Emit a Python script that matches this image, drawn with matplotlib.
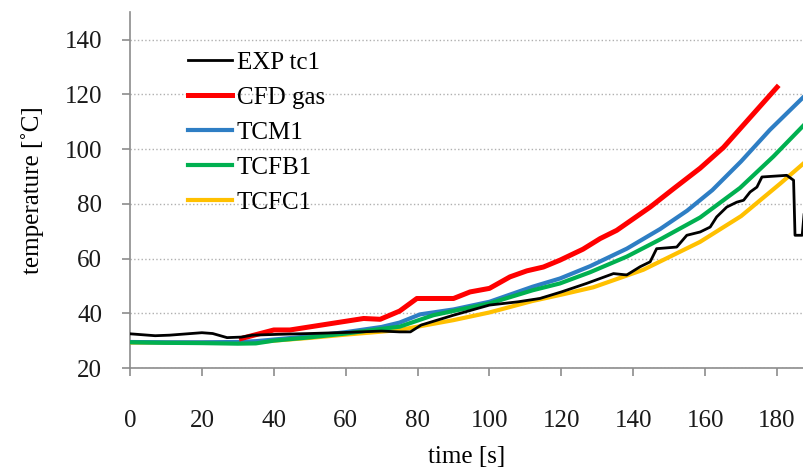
import numpy as np
import matplotlib
matplotlib.use("Agg")
from matplotlib import pyplot as plt

plt.rcParams['font.family'] = ['Liberation Serif', 'DejaVu Serif']

# EXP tc1 (measured)
t_exp = [0, 7, 11, 20, 23, 27, 31, 34, 41, 44, 50, 60, 70, 75, 78, 81, 84, 90, 100,
         108, 114, 120, 127, 134.5, 138.2, 141.9, 144.7, 146.5, 152.1, 154.9, 158.6, 161.4,
         163.2, 166, 168.8, 170.7, 172.5, 174.4, 175.8, 182.7, 184.6, 185, 187, 187.5]
T_exp = [32.5, 31.8, 32.0, 32.9, 32.6, 31.1, 31.3, 32.0, 32.3, 32.4, 32.6, 33.0, 33.5, 33.2,
         33.2, 35.7, 36.9, 39.3, 43.0, 44.2, 45.4, 47.8, 50.9, 54.5, 54.0, 57.0, 58.8,
         63.6, 64.2, 68.5, 69.7, 71.5, 75.2, 78.8, 80.6, 81.3, 84.3, 86.1, 89.8, 90.4,
         88.6, 68.5, 68.5, 76.0]

# CFD gas
t_cfd = [31, 40, 44.5, 65, 69.6, 75, 79.8, 90, 94.6, 100, 105.7, 110.4, 115, 119.6,
         126, 130.8, 135.4, 144.7, 151.2, 158.6, 165.1, 171.6, 180]
T_cfd = [30.8, 33.9, 33.9, 38.1, 37.8, 40.8, 45.4, 45.4, 47.8, 49.1, 53.3, 55.5, 56.9,
         59.4, 63.4, 67.3, 70.3, 78.8, 85.5, 93.0, 100.6, 110.2, 122.6]

# TCM1
t_tcm = [0, 10, 20, 30, 35, 40, 50, 60, 70, 75, 80.7, 90, 100, 112, 119.6, 128,
         138.2, 147.5, 155, 162, 170, 178, 187.5]
T_tcm = [29.5, 29.4, 29.4, 29.5, 29.8, 30.4, 31.6, 33.1, 35.0, 36.6, 39.6, 41.4, 44.2,
         49.7, 52.7, 57.2, 63.6, 70.8, 77.5, 85.0, 95.5, 107.0, 119.2]

# TCFB1
t_tcfb = [0, 10, 20, 30, 35, 40, 50, 60, 70, 75, 84.4, 100, 112, 119.6, 128, 138.2,
          147.5, 158.6, 169.7, 179, 187.5]
T_tcfb = [29.4, 29.2, 29.1, 28.9, 29.0, 30.0, 31.2, 32.6, 34.3, 35.1, 39.3, 43.6, 48.4,
          50.9, 55.0, 60.7, 67.0, 75.0, 85.8, 97.3, 108.8]

# TCFC1
t_tcfc = [0, 10, 20, 30, 35, 40, 50, 60, 70, 75, 90, 100, 112, 120, 128.9, 142.8,
          158.6, 170, 180.9, 187.5]
T_tcfc = [29.3, 29.3, 29.3, 29.3, 29.4, 30.0, 31.0, 32.2, 33.3, 33.9, 37.5, 40.3, 44.5,
          46.8, 49.5, 55.9, 66.1, 75.5, 87.4, 94.9]

fig = plt.figure(figsize=(8.04, 4.70), dpi=100)
ax = fig.add_axes([0.1617, 0.217, 0.8383, 0.757])

grey = '#8c8c8c'
ax.plot(t_exp, T_exp, color='black', lw=2.0, label='EXP tc1', zorder=6)
ax.plot(t_cfd, T_cfd, color='#ff0000', lw=3.6, label='CFD gas', zorder=5)
ax.plot(t_tcm, T_tcm, color='#2e7ec4', lw=3.0, label='TCM1', zorder=4)
ax.plot(t_tcfb, T_tcfb, color='#00b050', lw=3.0, label='TCFB1', zorder=4)
ax.plot(t_tcfc, T_tcfc, color='#ffc000', lw=3.0, label='TCFC1', zorder=3)

ax.set_xlim(0, 187.5)
ax.set_ylim(20, 150)
ax.set_xticks(np.arange(0, 181, 20))
ax.set_yticks(np.arange(20, 141, 20))
ax.yaxis.grid(True, color='#b0b0b0', linestyle=':', linewidth=1.0)
ax.set_axisbelow(True)

for s in ['top', 'right']:
    ax.spines[s].set_visible(False)
for s in ['left', 'bottom']:
    ax.spines[s].set_color(grey)
    ax.spines[s].set_linewidth(1.2)

ax.tick_params(axis='both', colors=grey, labelcolor='#1a1a1a', labelsize=18,
               length=6, width=1.2, direction='out')
ax.tick_params(axis='y', pad=14)
ax.tick_params(axis='x', pad=24)

ax.set_xlabel('time [s]', fontsize=18, labelpad=10)
ax.set_ylabel('temperature [˚C]', fontsize=18, labelpad=15)

leg = ax.legend(loc='upper left', bbox_to_anchor=(0.071, 0.919), frameon=False,
                fontsize=18, handlelength=1.75, handletextpad=0.2, labelspacing=0.5,
                borderaxespad=0)

fig.savefig('out.png', dpi=100)
